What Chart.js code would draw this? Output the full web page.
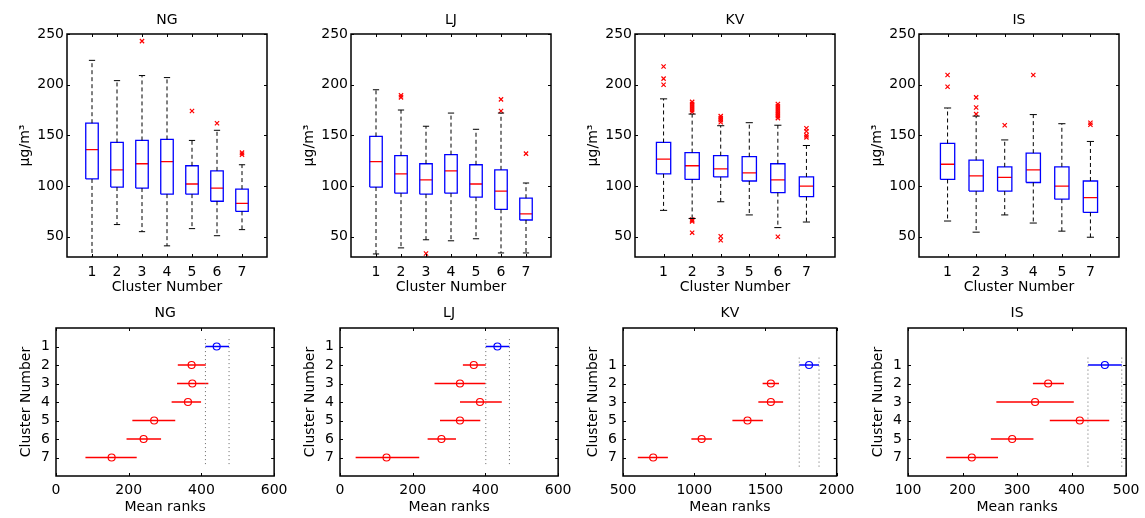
<!DOCTYPE html>
<html>
<head>
<meta charset="utf-8">
<script src="https://cdn.jsdelivr.net/npm/chart.js@4.4.1/dist/chart.umd.min.js"></script>
<style>
body { margin: 0; background: #fff; width: 1145px; height: 518px; overflow: hidden; position: relative; }
canvas { position: absolute; }
</style>
</head>
<body>
<script>
// ---------- data ----------

// top row: box plots of concentration per cluster
const yTicksTop = [50, 100, 150, 200, 250];

const ngClusters = ["1", "2", "3", "4", "5", "6", "7"];
const ngUpper = [224, 204, 209, 207, 145, 155, 121];
const ngQ3 = [162, 143, 145, 146, 120, 115, 97];
const ngMedian = [136, 116, 122, 124, 102, 98, 83];
const ngQ1 = [107, 99, 98, 92, 92, 85, 75];
const ngLower = [22, 62, 55, 41, 58, 51, 57];
const ngOutliers = [[], [], [243], [], [174], [162], [133, 131]];

const ljClusters = ["1", "2", "3", "4", "5", "6", "7"];
const ljUpper = [195, 175, 159, 172, 156, 172, 103];
const ljQ3 = [149, 130, 122, 131, 121, 116, 88];
const ljMedian = [124, 112, 106, 115, 102, 95, 72.5];
const ljQ1 = [99, 93, 92, 93, 89, 77, 66.5];
const ljLower = [33, 39, 47, 46, 48, 34, 34];
const ljOutliers = [[], [189.5, 187.5], [33.5], [], [], [185.5, 174], [132]];

const kvClusters = ["1", "2", "3", "5", "6", "7"];
const kvUpper = [186, 171, 159.5, 162.5, 160, 140];
const kvQ3 = [143, 133, 130, 129, 122, 109];
const kvMedian = [126.5, 120, 117, 113, 106, 100];
const kvQ1 = [112, 106.5, 109, 105, 93.5, 89.5];
const kvLower = [76, 68, 84.5, 71.5, 59, 64.5];
const kvOutliers = [
  [218, 206, 200],
  [183, 181, 179, 177, 175, 173, 67, 66, 65, 54],
  [169, 167, 165, 163, 50.5, 46.5],
  [],
  [181, 179, 177, 175, 173, 171, 169, 167, 50],
  [157, 154, 150, 148]
];

const isClusters = ["1", "2", "3", "4", "5", "7"];
const isUpper = [177, 169, 145.5, 170.5, 161.5, 144];
const isQ3 = [142, 125.5, 119, 132.5, 119, 105];
const isMedian = [121.5, 110, 108.5, 116, 100, 88.5];
const isQ1 = [106.5, 95, 95, 103.5, 87, 74];
const isLower = [65.5, 54.5, 71.5, 63.5, 55.5, 49.5];
const isOutliers = [[209.5, 198], [187.5, 177.5, 171], [160], [209.5], [], [162.5, 160.5]];

// bottom row: mean ranks with comparison intervals
const ngRankTicks = [0, 200, 400, 600];
const ngRankMean = [442, 373, 375, 363, 270, 241, 153];
const ngRankLo = [411, 335, 333, 318, 210, 194, 81];
const ngRankHi = [476, 412, 419, 399, 328, 289, 222];

const ljRankTicks = [0, 200, 400, 600];
const ljRankMean = [433, 368, 330, 385, 330, 279, 128];
const ljRankLo = [401, 338, 260, 330, 275, 241, 43];
const ljRankHi = [466, 401, 400, 445, 386, 319, 218];

const kvRankTicks = [500, 1000, 1500, 2000];
const kvRankMean = [1806, 1538, 1538, 1374, 1052, 712];
const kvRankLo = [1737, 1480, 1450, 1268, 980, 604];
const kvRankHi = [1876, 1595, 1624, 1482, 1124, 815];

const isRankTicks = [100, 200, 300, 400, 500];
const isRankMean = [461, 357, 333, 415, 291, 217];
const isRankLo = [430, 329, 262, 360, 252, 170];
const isRankHi = [492, 386, 404, 469, 330, 265];

// ---------- drawing ----------

const FONT = { family: "'DejaVu Sans', sans-serif", size: 14, weight: "normal" };
const BOX = 0.25, CAP = 0.125;

Chart.defaults.font.family = FONT.family;
Chart.defaults.color = "#000";

// matlab style frame with inward ticks on all sides
const frame = {
  id: "frame",
  afterDatasetsDraw(chart) {
    const { ctx, chartArea: a, scales: { x, y } } = chart;
    ctx.save();
    ctx.strokeStyle = "#000";
    ctx.lineWidth = 1;
    ctx.beginPath();
    x.ticks.forEach(t => {
      const px = Math.round(x.getPixelForValue(t.value)) + 0.5;
      ctx.moveTo(px, a.bottom); ctx.lineTo(px, a.bottom - 3);
      ctx.moveTo(px, a.top); ctx.lineTo(px, a.top + 3);
    });
    y.ticks.forEach(t => {
      const py = Math.round(y.getPixelForValue(t.value)) + 0.5;
      ctx.moveTo(a.left, py); ctx.lineTo(a.left + 3, py);
      ctx.moveTo(a.right, py); ctx.lineTo(a.right - 3, py);
    });
    ctx.stroke();
    ctx.lineWidth = 1.5;
    ctx.strokeRect(a.left, a.top, a.right - a.left, a.bottom - a.top);
    ctx.restore();
  }
};

function makeCanvas(left, top, w, h) {
  const c = document.createElement("canvas");
  c.width = w; c.height = h;
  c.style.left = left + "px"; c.style.top = top + "px";
  c.style.width = w + "px"; c.style.height = h + "px";
  document.body.appendChild(c);
  return c;
}

// polylines -> one dataset, broken by null points
function segs(lines) {
  const out = [];
  lines.forEach(pl => {
    pl.forEach(([x, y]) => out.push({ x, y }));
    out.push({ x: pl[0][0], y: null });
  });
  return out;
}

function lineSet(data, color, extra) {
  return Object.assign({ data, borderColor: color, borderWidth: 1.3, pointRadius: 0, fill: false, tension: 0 }, extra || {});
}

function markSet(data, color, style, r) {
  return {
    data, showLine: false, borderColor: color, backgroundColor: "rgba(0,0,0,0)",
    pointStyle: style, pointRadius: r, pointHoverRadius: r,
    pointBorderColor: color, pointBackgroundColor: "rgba(0,0,0,0)", pointBorderWidth: 1.2
  };
}

function tickAxis(values, opts) {
  return Object.assign({
    type: "linear",
    afterBuildTicks: s => { s.ticks = values.map(v => ({ value: v })); },
    grid: { display: false, drawTicks: false },
    border: { display: false }
  }, opts);
}

function boxPanel(plotLeft, name, labels, upper, q3, median, q1, lower, outliers) {
  const padL = 60, padT = 30, padR = 20, padB = 42, w = 200, h = 223, top = 34;
  const pos = labels.map((_, i) => i + 1);
  const whiskers = [], caps = [], boxes = [], medians = [], outs = [];
  pos.forEach((p, i) => {
    whiskers.push([[p, q3[i]], [p, upper[i]]], [[p, q1[i]], [p, lower[i]]]);
    caps.push([[p - CAP, upper[i]], [p + CAP, upper[i]]], [[p - CAP, lower[i]], [p + CAP, lower[i]]]);
    boxes.push([[p - BOX, q1[i]], [p + BOX, q1[i]], [p + BOX, q3[i]], [p - BOX, q3[i]], [p - BOX, q1[i]]]);
    medians.push([[p - BOX, median[i]], [p + BOX, median[i]]]);
    outliers[i].forEach(v => outs.push({ x: p, y: v }));
  });
  const canvas = makeCanvas(plotLeft - padL, top - padT, padL + w + padR, padT + h + padB);
  new Chart(canvas, {
    type: "line",
    data: {
      datasets: [
        lineSet(segs(whiskers), "#000", { borderDash: [4, 3], borderWidth: 1 }),
        lineSet(segs(caps), "#000", { borderWidth: 1 }),
        lineSet(segs(boxes), "#0000ff"),
        lineSet(segs(medians), "#ff0000"),
        markSet(outs, "#ff0000", "crossRot", 3)
      ]
    },
    options: {
      responsive: false, animation: false, devicePixelRatio: 1,
      layout: { padding: { left: 0, right: padR, top: 0, bottom: 0 } },
      plugins: {
        legend: { display: false }, tooltip: { enabled: false },
        title: { display: true, fullSize: false, text: name, color: "#000", font: FONT, padding: { top: 8.3, bottom: 4.9 } }
      },
      scales: {
        x: tickAxis(pos, {
          min: 0, max: labels.length + 1,
          ticks: { font: FONT, color: "#000", padding: 7, autoSkip: false, maxRotation: 0,
                   callback: v => labels[pos.indexOf(v)] ?? "" },
          title: { display: true, text: "Cluster Number", font: FONT, color: "#000", padding: { top: 0, bottom: 3.6 } },
          afterFit: s => { s.height = padB; }
        }),
        y: tickAxis(yTicksTop, {
          min: 30, max: 250,
          ticks: { font: FONT, color: "#000", padding: 3, callback: v => String(v) },
          title: { display: true, text: "μg/m³", font: FONT, color: "#000", padding: { top: 9.6, bottom: 0 } },
          afterFit: s => { s.width = padL; }
        })
      }
    },
    plugins: [frame]
  });
}

function rankPanel(plotLeft, name, labels, xTicks, mean, lo, hi) {
  const padL = 54, padT = 30, padR = 15, padB = 42, w = 222, h = 148, top = 328;
  const n = labels.length;
  const pos = labels.map((_, i) => 8 - n + i);
  const redLines = [], redPts = [];
  pos.forEach((p, i) => {
    if (i === 0) return;
    redLines.push([[lo[i], p], [hi[i], p]]);
    redPts.push({ x: mean[i], y: p });
  });
  const dotted = [
    [[lo[0], pos[0] - 0.4], [lo[0], pos[n - 1] + 0.5]],
    [[hi[0], pos[0] - 0.4], [hi[0], pos[n - 1] + 0.5]]
  ];
  const canvas = makeCanvas(plotLeft - padL, top - padT, padL + w + padR, padT + h + padB);
  new Chart(canvas, {
    type: "line",
    data: {
      datasets: [
        lineSet(segs(dotted), "#666", { borderDash: [1, 3], borderWidth: 1 }),
        lineSet(segs(redLines), "#ff0000"),
        lineSet(segs([[[lo[0], pos[0]], [hi[0], pos[0]]]]), "#0000ff"),
        markSet(redPts, "#ff0000", "circle", 3.5),
        markSet([{ x: mean[0], y: pos[0] }], "#0000ff", "circle", 3.5)
      ]
    },
    options: {
      responsive: false, animation: false, devicePixelRatio: 1,
      layout: { padding: { left: 0, right: padR, top: 0, bottom: 0 } },
      plugins: {
        legend: { display: false }, tooltip: { enabled: false },
        title: { display: true, fullSize: false, text: name, color: "#000", font: FONT, padding: { top: 6.5, bottom: 6.7 } }
      },
      scales: {
        x: tickAxis(xTicks, {
          min: xTicks[0], max: xTicks[xTicks.length - 1],
          ticks: { font: FONT, color: "#000", padding: 5.5, autoSkip: false, maxRotation: 0, callback: v => String(v) },
          title: { display: true, text: "Mean ranks", font: FONT, color: "#000", padding: { top: 0, bottom: 2.3 } },
          afterFit: s => { s.height = padB; }
        }),
        y: tickAxis(pos, {
          min: 0, max: 8, reverse: true,
          ticks: { font: FONT, color: "#000", padding: 6, autoSkip: false,
                   callback: v => labels[pos.indexOf(v)] ?? "" },
          title: { display: true, text: "Cluster Number", font: FONT, color: "#000", padding: { top: 16.3, bottom: 0 } },
          afterFit: s => { s.width = padL; }
        })
      }
    },
    plugins: [frame]
  });
}

boxPanel(67, "NG", ngClusters, ngUpper, ngQ3, ngMedian, ngQ1, ngLower, ngOutliers);
boxPanel(351, "LJ", ljClusters, ljUpper, ljQ3, ljMedian, ljQ1, ljLower, ljOutliers);
boxPanel(635, "KV", kvClusters, kvUpper, kvQ3, kvMedian, kvQ1, kvLower, kvOutliers);
boxPanel(919, "IS", isClusters, isUpper, isQ3, isMedian, isQ1, isLower, isOutliers);

rankPanel(56, "NG", ngClusters, ngRankTicks, ngRankMean, ngRankLo, ngRankHi);
rankPanel(340, "LJ", ljClusters, ljRankTicks, ljRankMean, ljRankLo, ljRankHi);
rankPanel(623, "KV", kvClusters, kvRankTicks, kvRankMean, kvRankLo, kvRankHi);
rankPanel(908, "IS", isClusters, isRankTicks, isRankMean, isRankLo, isRankHi);
</script>
</body>
</html>
